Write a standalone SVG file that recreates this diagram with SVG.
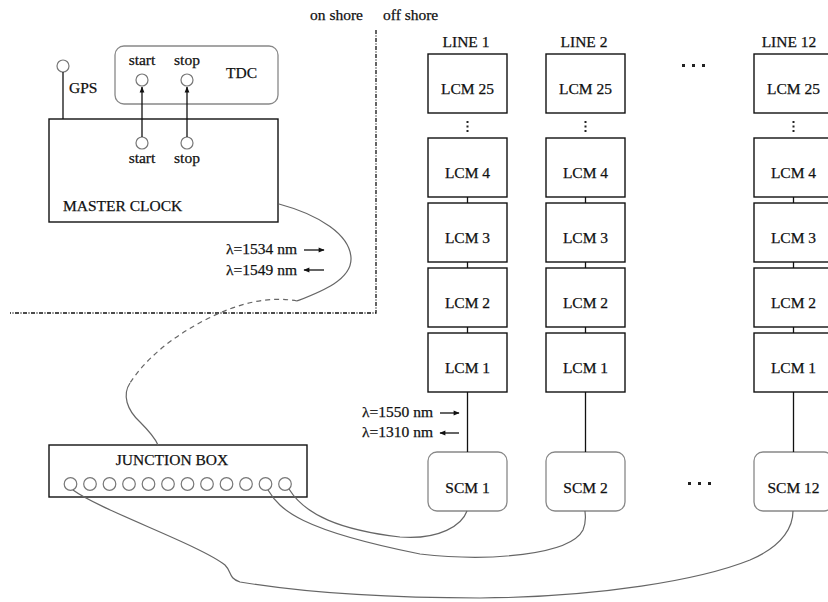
<svg xmlns="http://www.w3.org/2000/svg" width="828" height="602" viewBox="0 0 828 602">
<defs>
<style>
text{font-family:"Liberation Serif","Times New Roman",serif;font-size:15.5px;fill:#111;stroke:#111;stroke-width:0.25}
.m{text-anchor:middle}
.box{fill:#fff;stroke:#111;stroke-width:1.4}
.rbox{fill:#fff;stroke:#888;stroke-width:1.3}
.pin{fill:#fff;stroke:#777;stroke-width:1.2}
.wire{fill:none;stroke:#111;stroke-width:1.3}
.cable{fill:none;stroke:#666;stroke-width:1.2}
.bound{fill:none;stroke:#111;stroke-width:1.3;stroke-dasharray:4 1.5 1 1.5}
.dot{fill:#222}
</style>
<marker id="ah" viewBox="0 0 10 10" refX="9" refY="5" markerWidth="8" markerHeight="6" orient="auto" markerUnits="userSpaceOnUse">
<path d="M0,1 L10,5 L0,9 Z" fill="#111"/>
</marker>
</defs>
<rect width="828" height="602" fill="#fff"/>

<g id="boundary">
<path class="bound" d="M376,30 V313 H10"/>
<text x="310" y="20">on shore</text>
<text x="383" y="20">off shore</text>
</g>

<g id="gps">
<circle class="pin" cx="63" cy="66" r="6"/>
<text x="69" y="93">GPS</text>
</g>

<g id="tdc">
<rect class="rbox" x="115" y="46" width="163" height="58" rx="9"/>
<text class="m" x="142" y="65">start</text>
<text class="m" x="187" y="65">stop</text>
<circle class="pin" cx="142" cy="80" r="6"/>
<circle class="pin" cx="187" cy="80" r="6"/>
<text x="226" y="78">TDC</text>
</g>

<g id="master-clock">
<rect class="box" x="49" y="119" width="229" height="103"/>
<circle class="pin" cx="142" cy="143" r="6"/>
<circle class="pin" cx="187" cy="143" r="6"/>
<text class="m" x="142" y="163">start</text>
<text class="m" x="187" y="163">stop</text>
<text x="63" y="211">MASTER CLOCK</text>
</g>

<g id="junction-box">
<rect class="box" x="49" y="445" width="258" height="52"/>
<text class="m" x="172" y="465">JUNCTION BOX</text>
<g class="pin">
<circle cx="70.5" cy="484" r="6.3"/><circle cx="90" cy="484" r="6.3"/><circle cx="109.5" cy="484" r="6.3"/>
<circle cx="129" cy="484" r="6.3"/><circle cx="148.5" cy="484" r="6.3"/><circle cx="168" cy="484" r="6.3"/>
<circle cx="187.5" cy="484" r="6.3"/><circle cx="207" cy="484" r="6.3"/><circle cx="226.5" cy="484" r="6.3"/>
<circle cx="246" cy="484" r="6.3"/><circle cx="265.5" cy="484" r="6.3"/><circle cx="285" cy="484" r="6.3"/>
</g>
</g>

<g id="line1">
<text class="m" x="466" y="47">LINE 1</text>
<g id="l1-lcm25"><rect class="box" x="428" y="54" width="79" height="59"/><text class="m" x="467.5" y="94">LCM 25</text></g>
<g class="dot"><rect x="466.5" y="121" width="2" height="2"/><rect x="466.5" y="125.5" width="2" height="2"/><rect x="466.5" y="130" width="2" height="2"/></g>
<g id="l1-lcm4"><rect class="box" x="428" y="138" width="79" height="59"/><text class="m" x="467.5" y="178">LCM 4</text></g>
<g id="l1-lcm3"><rect class="box" x="428" y="203" width="79" height="59"/><text class="m" x="467.5" y="243">LCM 3</text></g>
<g id="l1-lcm2"><rect class="box" x="428" y="268" width="79" height="59"/><text class="m" x="467.5" y="308">LCM 2</text></g>
<g id="l1-lcm1"><rect class="box" x="428" y="333" width="79" height="59"/><text class="m" x="467.5" y="373">LCM 1</text></g>
<g id="scm1"><rect class="rbox" x="428" y="452" width="79" height="59" rx="9"/><text class="m" x="467.5" y="493">SCM 1</text></g>
</g>

<g id="line2">
<text class="m" x="584" y="47">LINE 2</text>
<g id="l2-lcm25"><rect class="box" x="546" y="54" width="79" height="59"/><text class="m" x="585.5" y="94">LCM 25</text></g>
<g class="dot"><rect x="584.5" y="121" width="2" height="2"/><rect x="584.5" y="125.5" width="2" height="2"/><rect x="584.5" y="130" width="2" height="2"/></g>
<g id="l2-lcm4"><rect class="box" x="546" y="138" width="79" height="59"/><text class="m" x="585.5" y="178">LCM 4</text></g>
<g id="l2-lcm3"><rect class="box" x="546" y="203" width="79" height="59"/><text class="m" x="585.5" y="243">LCM 3</text></g>
<g id="l2-lcm2"><rect class="box" x="546" y="268" width="79" height="59"/><text class="m" x="585.5" y="308">LCM 2</text></g>
<g id="l2-lcm1"><rect class="box" x="546" y="333" width="79" height="59"/><text class="m" x="585.5" y="373">LCM 1</text></g>
<g id="scm2"><rect class="rbox" x="546" y="452" width="79" height="59" rx="9"/><text class="m" x="585.5" y="493">SCM 2</text></g>
</g>

<g id="ellipsis">
<g class="dot"><rect x="682" y="64" width="3" height="3"/><rect x="692" y="64" width="3" height="3"/><rect x="702" y="64" width="3" height="3"/></g>
<g class="dot"><rect x="688" y="482" width="3" height="3"/><rect x="698" y="482" width="3" height="3"/><rect x="708" y="482" width="3" height="3"/></g>
</g>

<g id="line12">
<text class="m" x="789" y="47">LINE 12</text>
<g id="l12-lcm25"><rect class="box" x="754" y="54" width="79" height="59"/><text class="m" x="793.5" y="94">LCM 25</text></g>
<g class="dot"><rect x="792.5" y="121" width="2" height="2"/><rect x="792.5" y="125.5" width="2" height="2"/><rect x="792.5" y="130" width="2" height="2"/></g>
<g id="l12-lcm4"><rect class="box" x="754" y="138" width="79" height="59"/><text class="m" x="793.5" y="178">LCM 4</text></g>
<g id="l12-lcm3"><rect class="box" x="754" y="203" width="79" height="59"/><text class="m" x="793.5" y="243">LCM 3</text></g>
<g id="l12-lcm2"><rect class="box" x="754" y="268" width="79" height="59"/><text class="m" x="793.5" y="308">LCM 2</text></g>
<g id="l12-lcm1"><rect class="box" x="754" y="333" width="79" height="59"/><text class="m" x="793.5" y="373">LCM 1</text></g>
<g id="scm12"><rect class="rbox" x="754" y="452" width="79" height="59" rx="9"/><text class="m" x="793.5" y="493">SCM 12</text></g>
</g>

<g id="connectors">
<line class="wire" x1="63" y1="72" x2="63" y2="119"/>
<line class="wire" x1="142" y1="137" x2="142" y2="87" marker-end="url(#ah)"/>
<line class="wire" x1="187" y1="137" x2="187" y2="87" marker-end="url(#ah)"/>
<path class="cable" d="M279,204 C320,215 350,235 351,258 C352,280 320,292 297,301"/>
<path class="cable" stroke-dasharray="5 4" d="M297,301 C270,296 240,302 205,320 C170,338 145,360 130,383"/>
<path class="cable" d="M130,383 C122,395 127,410 140,422 C150,432 155,438 158,445"/>
<path class="cable" d="M289,489 C305,515 340,530 400,537 C440,540 462,525 467,511"/>
<path class="cable" d="M268,490 C280,510 300,530 420,554 C490,562 570,555 583,530 C587,520 585,515 585,511"/>
<path class="cable" d="M73,490 C100,510 200,545 225,565 C232,572 228,578 240,582 C300,592 380,598 480,598 C600,597 700,580 750,560 C785,545 793,525 793,511"/>
<g id="lcm-links">
<line class="wire" x1="467.5" y1="197" x2="467.5" y2="203"/>
<line class="wire" x1="467.5" y1="262" x2="467.5" y2="268"/>
<line class="wire" x1="467.5" y1="327" x2="467.5" y2="333"/>
<line class="wire" x1="467.5" y1="392" x2="467.5" y2="452"/>
<line class="wire" x1="585.5" y1="197" x2="585.5" y2="203"/>
<line class="wire" x1="585.5" y1="262" x2="585.5" y2="268"/>
<line class="wire" x1="585.5" y1="327" x2="585.5" y2="333"/>
<line class="wire" x1="585.5" y1="392" x2="585.5" y2="452"/>
<line class="wire" x1="793.5" y1="197" x2="793.5" y2="203"/>
<line class="wire" x1="793.5" y1="262" x2="793.5" y2="268"/>
<line class="wire" x1="793.5" y1="327" x2="793.5" y2="333"/>
<line class="wire" x1="793.5" y1="392" x2="793.5" y2="452"/>
</g>
<line class="wire" x1="304" y1="250" x2="324" y2="250" marker-end="url(#ah)"/>
<line class="wire" x1="324" y1="270" x2="304" y2="270" marker-end="url(#ah)"/>
<line class="wire" x1="440" y1="413" x2="459" y2="413" marker-end="url(#ah)"/>
<line class="wire" x1="459" y1="433" x2="440" y2="433" marker-end="url(#ah)"/>
<text x="226" y="254">λ=1534 nm</text>
<text x="226" y="275">λ=1549 nm</text>
<text x="362" y="417">λ=1550 nm</text>
<text x="362" y="437">λ=1310 nm</text>
</g>
</svg>
